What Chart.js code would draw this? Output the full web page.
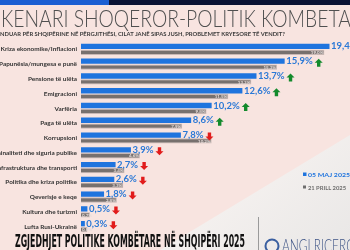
<!DOCTYPE html>
<html>
<head>
<meta charset="utf-8">
<script src="https://cdn.jsdelivr.net/npm/chart.js@4.4.1/dist/chart.umd.min.js"></script>
<style>
  html, body { margin: 0; padding: 0; overflow: hidden; background: #f8e4e0; }
  #wrap { position: relative; width: 350px; height: 250px; }
</style>
</head>
<body>
<div id="wrap"><canvas id="c" width="350" height="250"></canvas></div>
<script>
// ---- DATA ----
const categories = [
  'Kriza ekonomike/Inflacioni',
  'Papunësia/mungesa e punë',
  'Pensione të ulëta',
  'Emigracioni',
  'Varfëria',
  'Paga të ulëta',
  'Korrupsioni',
  'Kriminaliteti dhe siguria publike',
  'Infrastruktura dhe transporti',
  'Politika dhe kriza politike',
  'Qeverisje e keqe',
  'Kultura dhe turizmi',
  'Lufta Rusi-Ukrainë'
];
const may2025 = [19.4, 15.9, 13.7, 12.6, 10.2, 8.6, 7.8, 3.9, 2.7, 2.6, 1.8, 0.5, 0.3];
const april2025 = [19.0, 15.3, 13.3, 11.5, 9.8, 7.9, 10.2, 4.6, 3.4, 3.3, 2.8, 0.7, 0.5];
const seriesNames = ['05 MAJ 2025', '21 PRILL 2025'];
const titleText = 'KENARI SHOQEROR-POLITIK KOMBETAR';
const titleVisible = 'KENARI SHOQEROR-POLITIK KOMBETA';
const subtitleText = 'NDUAR PËR SHQIPËRINE NË PËRGJITHËSI, CILAT JANË SIPAS JUSH, PROBLEMET KRYESORE TË VENDIT?';
const footerText = 'ZGJEDHJET POLITIKE KOMBËTARE NË SHQIPËRI 2025';
const logoText = 'ANGI RICERCHE';

const BLUE = '#1f74de';
const GREY = '#77706e';

function fmt(v) { return v.toFixed(1).replace('.', ',') + '%'; }

function fitText(ctx, text, x, y, width, font, color, measureText) {
  ctx.save();
  ctx.font = font;
  ctx.fillStyle = color;
  ctx.textBaseline = 'alphabetic';
  ctx.textAlign = 'left';
  const w = ctx.measureText(measureText || text).width;
  const s = width / w;
  ctx.translate(x, y);
  ctx.scale(s, 1);
  ctx.fillText(text, 0, 0);
  ctx.restore();
}

function arrow(ctx, x, y, up, color) {
  ctx.save();
  ctx.fillStyle = color;
  ctx.beginPath();
  const hw = 4, sh = 1.7, h = 4;
  const d = up ? 1 : -1;
  ctx.moveTo(x, y - h * d);
  ctx.lineTo(x + hw, y);
  ctx.lineTo(x + sh, y);
  ctx.lineTo(x + sh, y + h * d);
  ctx.lineTo(x - sh, y + h * d);
  ctx.lineTo(x - sh, y);
  ctx.lineTo(x - hw, y);
  ctx.closePath();
  ctx.fill();
  ctx.restore();
}

const decor = {
  id: 'decor',
  beforeDraw(chart) {
    const ctx = chart.ctx;
    ctx.save();
    ctx.fillStyle = '#f8e4e0';
    ctx.fillRect(0, 0, 350, 250);
    const g = ctx.createLinearGradient(250, 150, 330, 250);
    g.addColorStop(0, '#f6f2f0');
    g.addColorStop(1, '#eae8e7');
    ctx.fillStyle = g;
    ctx.beginPath();
    ctx.moveTo(350, 135);
    ctx.lineTo(350, 250);
    ctx.lineTo(160, 250);
    ctx.closePath();
    ctx.fill();
    ctx.fillStyle = '#0b1233';
    ctx.fillRect(0, 0, 350, 5);
    ctx.fillStyle = '#1c5fd2';
    ctx.fillRect(0, 0, 109, 5);
    ctx.restore();
  },
  afterDraw(chart) {
    const ctx = chart.ctx;
    fitText(ctx, titleText, 1, 27, 350, '300 24px Lato', '#505050', titleVisible);
    fitText(ctx, subtitleText, 0, 35.5, 285, 'bold 5.5px Lato', '#3a3a3a');
    fitText(ctx, footerText, 15, 247, 230, 'bold 18px "DejaVu Sans Condensed", "Liberation Sans Narrow", sans-serif', '#111111');
    ctx.save();
    ctx.fillStyle = BLUE;
    ctx.fillRect(303, 172.5, 3.5, 3.5);
    ctx.fillStyle = '#6e6e6e';
    ctx.fillRect(303, 185.5, 3, 3);
    ctx.restore();
    fitText(ctx, seriesNames[0], 308, 177, 42, 'bold 6px Lato', BLUE);
    fitText(ctx, seriesNames[1], 308, 189.5, 38, 'bold 5px Lato', '#6e6e6e');
    ctx.save();
    ctx.strokeStyle = '#9a9a9a';
    ctx.lineWidth = 1;
    ctx.beginPath();
    ctx.moveTo(258.5, 217);
    ctx.lineTo(258.5, 250);
    ctx.stroke();
    ctx.strokeStyle = '#3a5fa0';
    ctx.lineWidth = 2;
    ctx.beginPath();
    ctx.arc(272, 246, 6.5, 0, Math.PI * 2);
    ctx.stroke();
    ctx.restore();
    fitText(ctx, logoText, 282, 252, 88, '300 17px Lato', '#3e5486');
  },
  afterDatasetsDraw(chart) {
    const ctx = chart.ctx;
    const m0 = chart.getDatasetMeta(0);
    const m1 = chart.getDatasetMeta(1);
    ctx.save();
    m1.data.forEach((bar, i) => {
      ctx.font = 'bold 4.5px Lato';
      ctx.fillStyle = '#e6dcda';
      ctx.textAlign = 'right';
      ctx.textBaseline = 'middle';
      const t = fmt(april2025[i]);
      const w = ctx.measureText(t).width;
      const x = Math.max(bar.x - 1, bar.base + w + 1);
      ctx.fillText(t, x, bar.y + 0.3);
    });
    m0.data.forEach((bar, i) => {
      ctx.font = 'bold 9.5px Lato';
      ctx.fillStyle = '#2a78d6';
      ctx.textAlign = 'left';
      ctx.textBaseline = 'middle';
      const t = fmt(may2025[i]);
      ctx.fillText(t, bar.x + 1.5, bar.y);
      const w = ctx.measureText(t).width;
      const up = may2025[i] > april2025[i];
      arrow(ctx, bar.x + 1.5 + w + 6, bar.y + 1.5, up, up ? '#138a2c' : '#e11b1b');
    });
    ctx.restore();
  }
};

new Chart(document.getElementById('c'), {
  type: 'bar',
  data: {
    labels: categories,
    datasets: [
      { label: seriesNames[0], data: may2025, backgroundColor: BLUE, borderWidth: 0,
        barPercentage: 0.9, categoryPercentage: 0.8 },
      { label: seriesNames[1], data: april2025, backgroundColor: GREY, borderColor: '#c9b8b5',
        borderWidth: 1, borderSkipped: 'start', barPercentage: 0.9, categoryPercentage: 0.8 }
    ]
  },
  options: {
    indexAxis: 'y',
    responsive: false,
    animation: false,
    devicePixelRatio: 1,
    layout: { padding: { top: 42, bottom: 16, left: 0, right: 0 } },
    plugins: { legend: { display: false }, tooltip: { enabled: false } },
    scales: {
      x: { display: false, min: 0, max: 21 },
      y: {
        grid: { display: false, drawTicks: false },
        border: { display: false },
        ticks: { autoSkip: false, padding: 4, color: '#333333',
                 font: { family: 'Lato', size: 6.4, weight: 'bold' } },
        afterFit(scale) { scale.width = 81; }
      }
    }
  },
  plugins: [decor]
});
</script>
</body>
</html>
